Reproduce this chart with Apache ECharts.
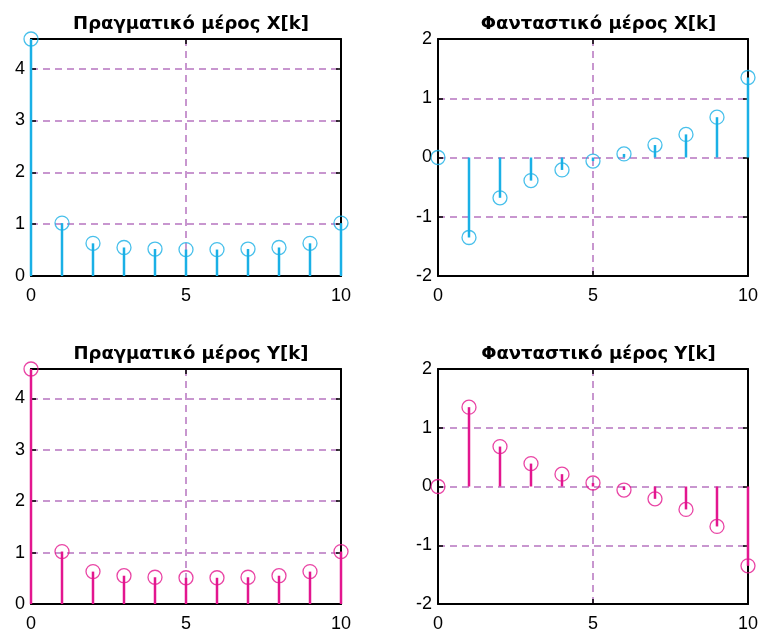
<!DOCTYPE html>
<html>
<head>
<meta charset="utf-8">
<script src="https://cdn.jsdelivr.net/npm/echarts@6/dist/echarts.min.js"></script>
<style>
html,body{margin:0;padding:0;background:#fff;}
#c{width:761px;height:633px;}
</style>
</head>
<body>
<div id="c"></div>
<script>
// ---- data ----
const k = [0, 1, 2, 3, 4, 5, 6, 7, 8, 9, 10];
const reX = [4.57, 1.02, 0.63, 0.55, 0.52, 0.51, 0.51, 0.52, 0.55, 0.63, 1.02];
const imX = [0, -1.35, -0.68, -0.39, -0.21, -0.06, 0.06, 0.21, 0.39, 0.68, 1.35];
const reY = [4.57, 1.02, 0.63, 0.55, 0.52, 0.51, 0.51, 0.52, 0.55, 0.63, 1.02];
const imY = [0, 1.35, 0.68, 0.39, 0.21, 0.06, -0.06, -0.21, -0.39, -0.68, -1.35];
const titles = ['Πραγματικό μέρος X[k]', 'Φανταστικό μέρος X[k]', 'Πραγματικό μέρος Y[k]', 'Φανταστικό μέρος Y[k]'];
const xTicks = [0, 5, 10];
const realRange = [0, 4.57];
const imagRange = [-2, 2];

// ---- styles ----
const CYAN = '#1ab0e6';
const MAGENTA = '#e3168f';
const GRIDC = '#c896cf';
const FONT = 'Liberation Sans';
const TFONT = 'DejaVu Sans';

const grids = [
  {left: 31, top: 39, width: 310, height: 237},
  {left: 438, top: 39, width: 311, height: 237},
  {left: 31, top: 369, width: 310, height: 236},
  {left: 438, top: 369, width: 311, height: 236}
];
const panels = [
  {vals: reX, color: CYAN, range: realRange},
  {vals: imX, color: CYAN, range: imagRange},
  {vals: reY, color: MAGENTA, range: realRange},
  {vals: imY, color: MAGENTA, range: imagRange}
];

const option = {
  animation: false,
  backgroundColor: '#fff',
  title: [], grid: [], xAxis: [], yAxis: [], series: []
};

const split = {show: true, lineStyle: {color: GRIDC, type: [7, 5], width: 2}};
const axLine = {show: true, onZero: false, lineStyle: {color: '#000', width: 2}};
const tick = {show: true, inside: true, length: 5, lineStyle: {color: '#000', width: 1.5}};

panels.forEach((p, i) => {
  const g = grids[i];
  option.grid.push(Object.assign({containLabel: false}, g));
  option.title.push({
    text: titles[i], left: g.left + g.width / 2, top: i < 2 ? 10 : 340,
    textAlign: 'center',
    textStyle: {fontFamily: TFONT, fontWeight: 'bold', fontSize: 18, color: '#000'}
  });
  option.xAxis.push({
    type: 'value', gridIndex: i, min: 0, max: 10, interval: 5, position: 'bottom',
    axisLine: axLine, axisTick: tick,
    axisLabel: {show: true, margin: 11, fontFamily: FONT, fontSize: 18, color: '#000',
      formatter: v => xTicks.includes(v) ? String(v) : ''},
    splitLine: split
  });
  option.xAxis.push({
    type: 'value', gridIndex: i, min: 0, max: 10, interval: 5, position: 'top',
    axisLine: axLine, axisTick: tick,
    axisLabel: {show: false}, splitLine: {show: false}
  });
  option.yAxis.push({
    type: 'value', gridIndex: i, min: p.range[0], max: p.range[1], interval: 1, position: 'left',
    axisLine: axLine, axisTick: tick,
    axisLabel: {show: true, margin: 6, fontFamily: FONT, fontSize: 18, color: '#000',
      formatter: v => Number.isInteger(v) ? String(v) : ''},
    splitLine: split
  });
  option.yAxis.push({
    type: 'value', gridIndex: i, min: p.range[0], max: p.range[1], interval: 1, position: 'right',
    axisLine: axLine, axisTick: tick,
    axisLabel: {show: false}, splitLine: {show: false}
  });
  const data = k.map((kk, j) => [kk, p.vals[j]]);
  const color = p.color;
  option.series.push({
    type: 'custom', xAxisIndex: 2 * i, yAxisIndex: 2 * i, clip: false, z: 3,
    data: data,
    encode: {x: 0, y: 1},
    renderItem: function (params, api) {
      const a = api.coord([api.value(0), 0]);
      const b = api.coord([api.value(0), api.value(1)]);
      return {type: 'line', shape: {x1: a[0], y1: a[1], x2: b[0], y2: b[1]},
        style: {stroke: color, lineWidth: 2.5}};
    }
  });
  option.series.push({
    type: 'scatter', xAxisIndex: 2 * i, yAxisIndex: 2 * i, clip: false, z: 4,
    data: data, symbol: 'circle', symbolSize: 14,
    itemStyle: {color: 'rgba(0,0,0,0)', borderColor: color, borderWidth: 1.3}
  });
});

const chart = echarts.init(document.getElementById('c'), null, {renderer: 'canvas'});
chart.setOption(option);
</script>
</body>
</html>
